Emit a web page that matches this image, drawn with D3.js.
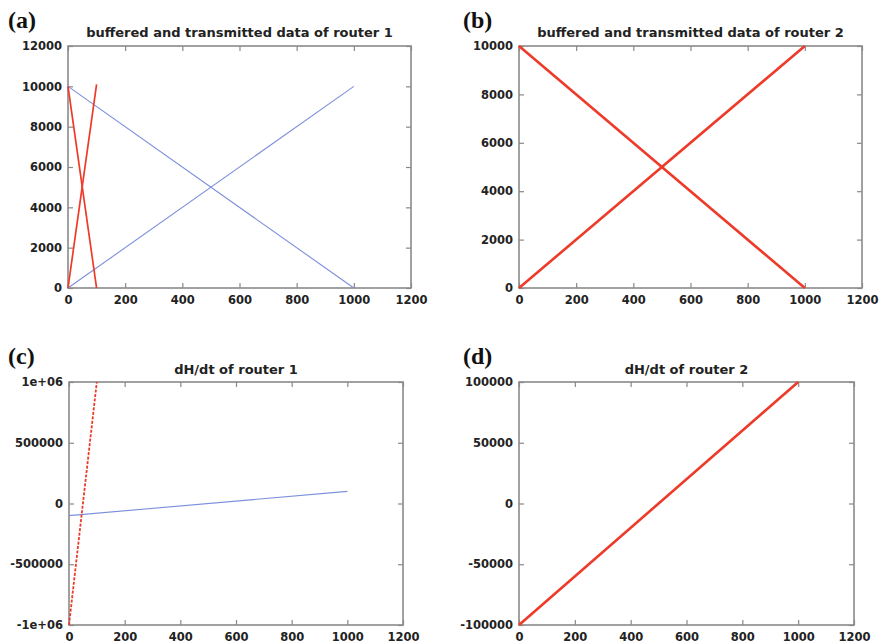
<!DOCTYPE html>
<html>
<head>
<meta charset="utf-8">
<script src="https://cdn.jsdelivr.net/npm/d3@7"></script>
<style>
  body { margin: 0; background: #fff; }
  .tick text { font-family: 'DejaVu Sans', sans-serif; font-weight: bold; font-size: 11.5px; fill: #222; }
  .title { font-family: 'DejaVu Sans', sans-serif; font-weight: bold; font-size: 13px; fill: #222; }
  .panel-label { font-family: 'Liberation Serif', 'DejaVu Serif', serif; font-weight: bold; font-size: 24px; fill: #111; }
</style>
</head>
<body>
<div id="wrapper"></div>
<script>
// data
const xTicks = [0, 200, 400, 600, 800, 1000, 1200]
const yTicksA = [0, 2000, 4000, 6000, 8000, 10000, 12000]
const yTicksB = [0, 2000, 4000, 6000, 8000, 10000]
const yTicksC = [-1000000, -500000, 0, 500000, 1000000]
const yTicksD = [-100000, -50000, 0, 50000, 100000]

// router 1 (a)
const r1SlowX = [0, 1000]
const r1SlowBuffered = [10000, 0]
const r1SlowTransmitted = [0, 10000]
const r1FastX = [0, 100]
const r1FastBuffered = [10000, 0]
const r1FastTransmitted = [0, 10100]

// router 2 (b)
const r2X = [0, 1000]
const r2Buffered = [10000, 0]
const r2Transmitted = [0, 10000]

// dH/dt router 1 (c)
const dh1SlowX = [0, 1000]
const dh1Slow = [-100000, 100000]
const dh1FastX = [0, 100]
const dh1Fast = [-1000000, 1000000]

// dH/dt router 2 (d)
const dh2X = [0, 1000]
const dh2 = [-100000, 100000]

const blue = '#7c8fdc'
const red = '#ee3a28'

const width = 880
const height = 642

const svg = d3.select('#wrapper').append('svg')
  .attr('width', width)
  .attr('height', height)

// gnuplot style labels, plain hyphen for minus
const fmtTick = (d) => {
  if (Math.abs(d) === 1000000) return (d < 0 ? '-' : '') + '1e+06'
  return String(d)
}

const panels = [
  {
    label: '(a)', labelX: 8, labelY: 28,
    title: 'buffered and transmitted data of router 1', titleY: 37,
    box: { left: 68, right: 411, top: 46, bottom: 288 },
    yDomain: [0, 12000], yTicks: yTicksA,
    series: [
      { x: r1SlowX, y: r1SlowBuffered, color: blue, w: 1.1 },
      { x: r1SlowX, y: r1SlowTransmitted, color: blue, w: 1.1 },
      { x: r1FastX, y: r1FastBuffered, color: red, w: 1.7 },
      { x: r1FastX, y: r1FastTransmitted, color: red, w: 1.7 },
    ],
  },
  {
    label: '(b)', labelX: 463, labelY: 28,
    title: 'buffered and transmitted data of router 2', titleY: 37,
    box: { left: 519, right: 862, top: 46, bottom: 288 },
    yDomain: [0, 10000], yTicks: yTicksB,
    series: [
      { x: r2X, y: r2Buffered, color: red, w: 2.6 },
      { x: r2X, y: r2Transmitted, color: red, w: 2.6 },
    ],
  },
  {
    label: '(c)', labelX: 8, labelY: 364,
    title: 'dH/dt of router 1', titleY: 374,
    box: { left: 69, right: 403, top: 382, bottom: 625 },
    yDomain: [-1000000, 1000000], yTicks: yTicksC,
    series: [
      { x: dh1SlowX, y: dh1Slow, color: blue, w: 1.1 },
      { x: dh1FastX, y: dh1Fast, color: red, w: 1.8, dash: '3,1.5' },
    ],
  },
  {
    label: '(d)', labelX: 463, labelY: 364,
    title: 'dH/dt of router 2', titleY: 374,
    box: { left: 519, right: 854, top: 382, bottom: 625 },
    yDomain: [-100000, 100000], yTicks: yTicksD,
    series: [
      { x: dh2X, y: dh2, color: red, w: 2.6 },
    ],
  },
]

const drawPanel = (p) => {
  const b = p.box
  const xScale = d3.scaleLinear().domain([0, 1200]).range([b.left, b.right])
  const yScale = d3.scaleLinear().domain(p.yDomain).range([b.bottom, b.top])
  const g = svg.append('g')

  // mirrored inward ticks, like gnuplot
  const axes = [
    { gen: d3.axisBottom(xScale).tickValues(xTicks).tickFormat(fmtTick), at: `translate(0,${b.bottom})`, labels: true },
    { gen: d3.axisTop(xScale).tickValues(xTicks), at: `translate(0,${b.top})`, labels: false },
    { gen: d3.axisLeft(yScale).tickValues(p.yTicks).tickFormat(fmtTick), at: `translate(${b.left},0)`, labels: true },
    { gen: d3.axisRight(yScale).tickValues(p.yTicks), at: `translate(${b.right},0)`, labels: false },
  ]
  axes.forEach((a, i) => {
    const ax = g.append('g').attr('transform', a.at).call(a.gen.tickSizeInner(-5).tickSizeOuter(0).tickPadding(i < 2 ? 8 : 6))
    ax.select('.domain').remove()
    ax.selectAll('line').attr('stroke', '#888').attr('stroke-width', 1.2)
    if (!a.labels) ax.selectAll('text').remove()
  })

  g.append('rect')
    .attr('x', b.left).attr('y', b.top)
    .attr('width', b.right - b.left).attr('height', b.bottom - b.top)
    .attr('fill', 'none').attr('stroke', '#8a8a8a').attr('stroke-width', 1.6)

  const line = d3.line().x((d) => xScale(d[0])).y((d) => yScale(d[1]))
  p.series.forEach((s) => {
    g.append('path')
      .datum(s.x.map((x, i) => [x, s.y[i]]))
      .attr('d', line)
      .attr('fill', 'none')
      .attr('stroke', s.color)
      .attr('stroke-width', s.w)
      .attr('stroke-dasharray', s.dash || null)
  })

  g.append('text').attr('class', 'title')
    .attr('x', (b.left + b.right) / 2).attr('y', p.titleY)
    .attr('text-anchor', 'middle').text(p.title)

  g.append('text').attr('class', 'panel-label')
    .attr('x', p.labelX).attr('y', p.labelY).text(p.label)
}

panels.forEach(drawPanel)
</script>
</body>
</html>
